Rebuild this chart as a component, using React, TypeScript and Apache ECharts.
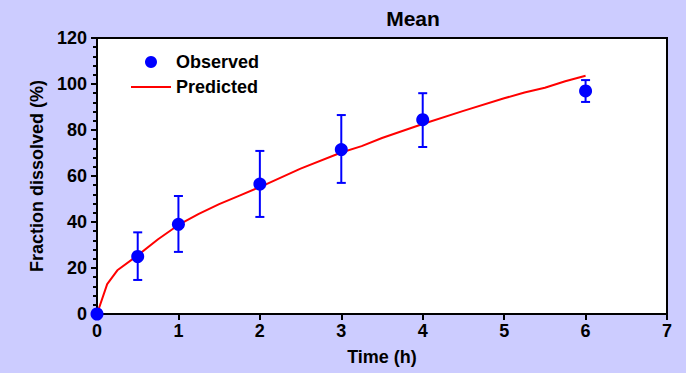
import React, { useEffect, useRef } from "react";
import * as echarts from "echarts";

const obsTime = [0, 0.5, 1, 2, 3, 4, 6];
const obsMean = [0, 25, 39, 56.5, 71.5, 84.5, 97];
const obsLow = [0, 14.8, 27, 42.2, 57, 72.6, 92.2];
const obsHigh = [0, 35.5, 51.3, 70.9, 86.5, 96, 101.7];

const predTime = [0, 0.125, 0.25, 0.5, 0.75, 1, 1.25, 1.5, 1.75, 2, 2.5, 3, 3.25, 3.5, 4, 4.5, 5, 5.25, 5.5, 5.75, 6];
const predValue = [0, 13, 19, 25.5, 32.5, 38.7, 43.5, 47.8, 51.5, 55.2, 63.2, 70.2, 73, 76.5, 82.6, 88.3, 93.8, 96.3, 98.4, 101.2, 103.6];

const xTicks = [0, 7, 1];
const yTicks = [0, 120, 20];

export default function App() {
  const ref = useRef<HTMLDivElement>(null);
  useEffect(() => {
    const chart = echarts.init(ref.current!, null, { renderer: "svg" });
    const font = "'Liberation Sans', Arial, sans-serif";
    const txt = { fontFamily: font, fontSize: 18, fontWeight: "bold", color: "#000" };
    const errData = obsTime.map((t, i) => [t, obsLow[i], obsHigh[i]]).filter((d) => d[2] > d[1]);
    chart.setOption({
      animation: false,
      backgroundColor: "#CCCCFF",
      title: {
        text: "Mean",
        left: 408,
        textAlign: "center",
        top: 3,
        textStyle: { ...txt, fontSize: 21 },
      },
      legend: {
        orient: "vertical",
        left: 131,
        top: 53,
        padding: 0,
        itemWidth: 40,
        itemHeight: 12,
        itemGap: 7,
        textStyle: { ...txt, lineHeight: 18 },
        data: [
          { name: "Observed", icon: "circle", itemStyle: { color: "#0000FF", opacity: 1 } },
          { name: "Predicted", icon: "path://M0,0h40v2h-40z", itemStyle: { color: "#FF0000" } },
        ],
      },
      grid: {
        left: 97,
        right: 19,
        top: 38,
        bottom: 59,
        show: true,
        backgroundColor: "#fff",
        borderColor: "#000",
        borderWidth: 2,
      },
      xAxis: {
        type: "value",
        min: xTicks[0],
        max: xTicks[1],
        interval: xTicks[2],
        name: "Time (h)",
        nameLocation: "middle",
        nameGap: 34,
        nameTextStyle: txt,
        axisLine: { lineStyle: { color: "#000", width: 2 } },
        axisTick: { inside: false, length: 6, lineStyle: { color: "#000", width: 2 } },
        axisLabel: { ...txt, margin: 8 },
        splitLine: { show: false },
      },
      yAxis: {
        type: "value",
        min: yTicks[0],
        max: yTicks[1],
        interval: yTicks[2],
        name: "Fraction dissolved (%)",
        nameLocation: "middle",
        nameGap: 50,
        nameTextStyle: txt,
        axisLine: { lineStyle: { color: "#000", width: 2 } },
        axisTick: { inside: false, length: 6, lineStyle: { color: "#000", width: 2 } },
        minorTick: { show: true, splitNumber: 5, length: 4, lineStyle: { color: "#000", width: 2 } },
        axisLabel: { ...txt, margin: 10 },
        splitLine: { show: false },
      },
      series: [
        {
          name: "Predicted",
          type: "line",
          data: predTime.map((t, i) => [t, predValue[i]]),
          showSymbol: false,
          symbol: "none",
          lineStyle: { color: "#FF0000", width: 2 },
          itemStyle: { color: "#FF0000" },
          z: 2,
        },
        {
          name: "errorbars",
          type: "custom",
          data: errData,
          z: 3,
          renderItem: (params: any, api: any) => {
            const x = api.value(0);
            const lo = api.coord([x, api.value(1)]);
            const hi = api.coord([x, api.value(2)]);
            const hw = 4.5;
            const style = { stroke: "#0000FF", lineWidth: 2 };
            return {
              type: "group",
              children: [
                { type: "line", shape: { x1: lo[0], y1: lo[1], x2: hi[0], y2: hi[1] }, style },
                { type: "line", shape: { x1: lo[0] - hw, y1: lo[1], x2: lo[0] + hw, y2: lo[1] }, style },
                { type: "line", shape: { x1: hi[0] - hw, y1: hi[1], x2: hi[0] + hw, y2: hi[1] }, style },
              ],
            };
          },
        },
        {
          name: "Observed",
          type: "scatter",
          data: obsTime.map((t, i) => [t, obsMean[i]]),
          symbol: "circle",
          symbolSize: 13,
          itemStyle: { color: "#0000FF", opacity: 1 },
          z: 4,
        },
      ],
    });
    return () => chart.dispose();
  }, []);
  return <div ref={ref} style={{ position: "fixed", left: 0, top: 0, width: 686, height: 373 }} />;
}
